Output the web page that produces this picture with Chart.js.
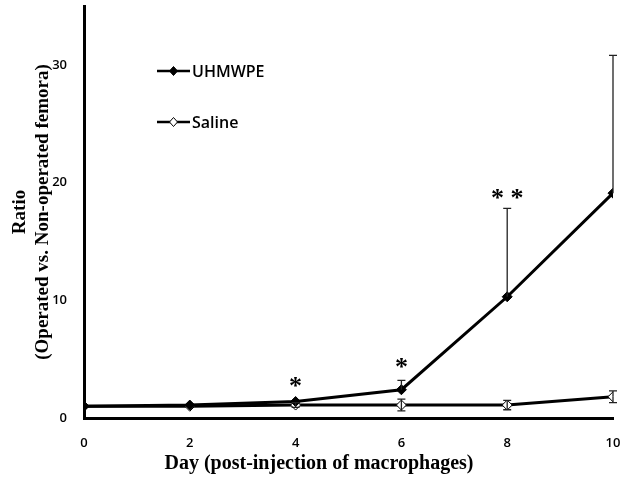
<!DOCTYPE html>
<html>
<head>
<meta charset="utf-8">
<script src="https://cdn.jsdelivr.net/npm/chart.js@4/dist/chart.umd.min.js"></script>
<style>
  html, body { margin: 0; padding: 0; background: #fff; }
  #wrap { width: 624px; height: 477px; }
</style>
</head>
<body>
<div id="wrap"><canvas id="chartRatio"></canvas></div>
<script>
// datos
const days = [0, 2, 4, 6, 8, 10];
const uhmwpe = [1.0, 1.1, 1.4, 2.4, 10.3, 19.1];
const uhmwpeErr = [0, 0.1, 0.1, 0.8, 7.5, 11.7];
const saline = [1.0, 1.0, 1.1, 1.1, 1.1, 1.8];
const salineErr = [0.05, 0.1, 0.2, 0.5, 0.4, 0.5];
const marks = ['', '', '*', '*', '* *', ''];
const markValues = [0, 0, 3.2, 4.8, 19.2, 0];
const yTicks = [0, 10, 20, 30];

const serif = '"Liberation Serif", "Times New Roman", serif';
const sans = '"Open Sans", "Liberation Sans", sans-serif';

// barras de error + asteriscos + título X
const extras = {
  id: 'extras',
  afterDatasetsDraw(chart) {
    const { ctx, scales: { x, y } } = chart;
    ctx.save();
    ctx.strokeStyle = '#222';
    ctx.lineWidth = 1.3;
    const bar = (xv, lo, hi) => {
      const px = x.getPixelForValue(xv);
      const p1 = y.getPixelForValue(lo), p2 = y.getPixelForValue(hi);
      ctx.beginPath();
      ctx.moveTo(px, p1); ctx.lineTo(px, p2);
      ctx.moveTo(px - 4, p2); ctx.lineTo(px + 4, p2);
      ctx.stroke();
    };
    days.forEach((d, i) => {
      if (uhmwpeErr[i] > 0.3) bar(d, uhmwpe[i], uhmwpe[i] + uhmwpeErr[i]);
      if (salineErr[i] > 0.15) {
        bar(d, saline[i], saline[i] + salineErr[i]);
        bar(d, saline[i], saline[i] - salineErr[i]);
      }
    });
    ctx.fillStyle = '#000';
    ctx.font = 'bold 26px ' + serif;
    ctx.textAlign = 'center';
    ctx.textBaseline = 'middle';
    days.forEach((d, i) => {
      if (!marks[i]) return;
      ctx.fillText(marks[i], x.getPixelForValue(d), y.getPixelForValue(markValues[i]) + 7);
    });
    ctx.font = 'bold 20px ' + serif;
    ctx.fillText('Day (post-injection of macrophages)', 319, 464);
    ctx.restore();
  }
};

// leyenda dentro del área
const legendBox = {
  id: 'legendBox',
  afterDraw(chart) {
    const { ctx } = chart;
    const items = [
      { label: 'UHMWPE', fill: '#000', top: 71 },
      { label: 'Saline', fill: '#fff', top: 122 }
    ];
    ctx.save();
    items.forEach(it => {
      ctx.strokeStyle = '#000';
      ctx.lineWidth = 2.5;
      ctx.beginPath();
      ctx.moveTo(157, it.top); ctx.lineTo(190, it.top);
      ctx.stroke();
      ctx.fillStyle = it.fill;
      ctx.lineWidth = 1;
      ctx.beginPath();
      ctx.moveTo(173.5, it.top - 4.5); ctx.lineTo(177.5, it.top);
      ctx.lineTo(173.5, it.top + 4.5); ctx.lineTo(169.5, it.top);
      ctx.closePath();
      ctx.fill(); ctx.stroke();
      ctx.fillStyle = '#000';
      ctx.font = '600 16px ' + sans;
      ctx.textBaseline = 'middle';
      ctx.fillText(it.label, 192, it.top + 1);
    });
    ctx.restore();
  }
};

new Chart(document.getElementById('chartRatio'), {
  type: 'line',
  data: {
    datasets: [
      {
        label: 'UHMWPE',
        data: days.map((d, i) => ({ x: d, y: uhmwpe[i] })),
        borderColor: '#000',
        backgroundColor: '#000',
        borderWidth: 3,
        pointStyle: 'rectRot',
        pointRadius: 5,
        pointBorderWidth: 1,
        tension: 0
      },
      {
        label: 'Saline',
        data: days.map((d, i) => ({ x: d, y: saline[i] })),
        borderColor: '#000',
        backgroundColor: '#fff',
        borderWidth: 3,
        pointStyle: 'rectRot',
        pointRadius: 5,
        pointBorderWidth: 1,
        tension: 0
      }
    ]
  },
  options: {
    responsive: true,
    maintainAspectRatio: false,
    animation: false,
    layout: { padding: { top: 5, right: 11, left: 0, bottom: 0 } },
    plugins: { legend: { display: false }, tooltip: { enabled: false } },
    scales: {
      x: {
        type: 'linear',
        min: 0, max: 10,
        ticks: { stepSize: 2, color: '#000', font: { family: sans, size: 13, weight: '600' }, padding: 12 },
        grid: { display: false, drawTicks: true, tickLength: 5, tickColor: '#000' },
        border: { color: '#000', width: 3 },
        title: { display: false },
        afterFit(scale) { scale.height = 59; scale.paddingLeft = 0; scale.paddingRight = 0; }
      },
      y: {
        min: 0, max: 35,
        afterBuildTicks(scale) { scale.ticks = yTicks.map(v => ({ value: v })); },
        ticks: { color: '#000', font: { family: sans, size: 13, weight: '600' }, padding: 12 },
        grid: { display: false, drawTicks: true, tickLength: 5, tickColor: '#000' },
        border: { color: '#000', width: 3 },
        title: { display: true, text: ['Ratio', '(Operated vs. Non-operated femora)'], color: '#000',
                 font: { family: serif, size: 19, weight: 'bold', lineHeight: 1.2 }, padding: { top: 9, bottom: 4 } },
        afterFit(scale) { scale.width = 84; scale.paddingTop = 0; scale.paddingBottom = 0; }
      }
    }
  },
  plugins: [extras, legendBox]
});
</script>
</body>
</html>
